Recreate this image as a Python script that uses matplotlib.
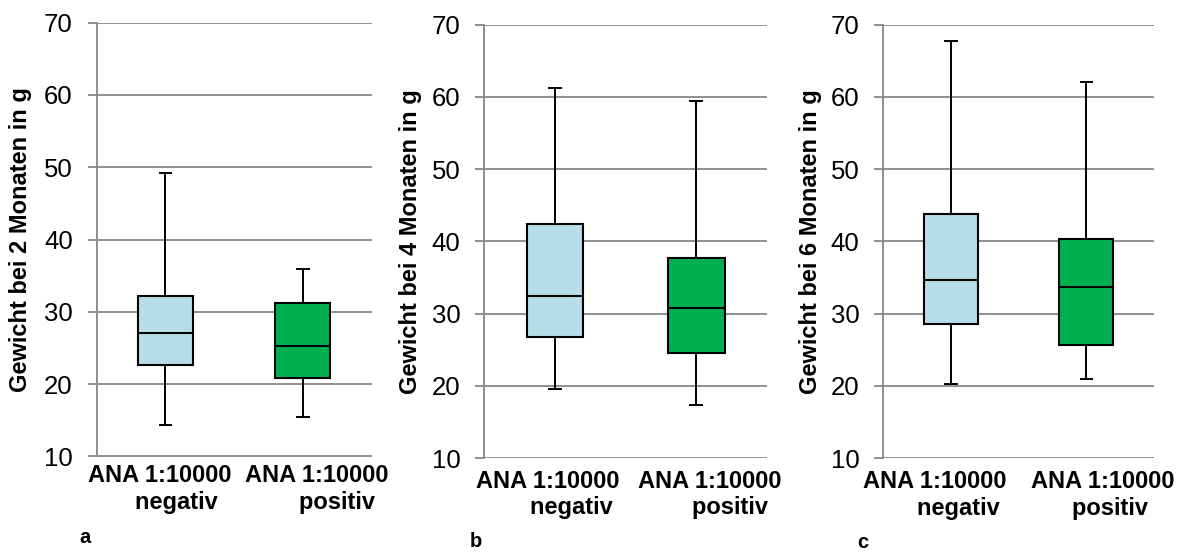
import matplotlib.pyplot as plt
from matplotlib.transforms import ScaledTranslation

plt.rcParams['font.family'] = ['Liberation Sans', 'DejaVu Sans']

line1 = "ANA 1:10000"
line2 = ["negativ", "positiv"]
ylabels = ["Gewicht bei 2 Monaten in g", "Gewicht bei 4 Monaten in g", "Gewicht bei 6 Monaten in g"]
letters = ["a", "b", "c"]

# whisker low, q1, median, q3, whisker high
neg_2m = [14.3, 22.6, 27.1, 32.2, 49.2]
pos_2m = [15.4, 20.8, 25.3, 31.3, 35.9]
neg_4m = [19.5, 26.8, 32.4, 42.4, 61.3]
pos_4m = [17.4, 24.6, 30.8, 37.7, 59.4]
neg_6m = [20.3, 28.5, 34.7, 43.8, 67.7]
pos_6m = [21.0, 25.7, 33.7, 40.3, 62.1]

panels = [(neg_2m, pos_2m), (neg_4m, pos_4m), (neg_6m, pos_6m)]
colors = ["#B7DDE8", "#00B050"]
grid_col = "#878787"

W, H = 1184, 552
fig = plt.figure(figsize=(W / 100, H / 100), dpi=100)
# axes boxes in pixels: left, right, top, bottom
boxes_px = [(96.7, 371.7, 22.7, 456.5),
            (484.3, 767.0, 24.7, 458.0),
            (883.3, 1154.0, 24.7, 458.0)]
label_x = [32, 422, 822]   # right edge of the rotated y label
letter_pos = [(85.5, 543), (476, 547), (863, 548)]
xpad = [5.5, 8.5, 9.0]
shift_px = [(-6, 14), (-7, 13.5), (-16, 16)]
trail = [(2, 2), (1, 2), (1, 4)]

for i, (neg, pos) in enumerate(panels):
    l, r, t, b = boxes_px[i]
    ax = fig.add_axes([l / W, 1 - b / H, (r - l) / W, (b - t) / H])
    stats = []
    for name, v in zip(line2, [neg, pos]):
        stats.append(dict(label=name, whislo=v[0], q1=v[1], med=v[2], q3=v[3], whishi=v[4], fliers=[]))
    bp = ax.bxp(stats, positions=[1, 2], widths=0.4, patch_artist=True, showfliers=False,
                boxprops=dict(linewidth=1.5, edgecolor="black"),
                medianprops=dict(color="black", linewidth=1.5),
                whiskerprops=dict(color="black", linewidth=1.4),
                capprops=dict(color="black", linewidth=1.4),
                capwidths=0.085)
    for patch, c in zip(bp['boxes'], colors):
        patch.set_facecolor(c)
        patch.set_zorder(3)
    for art in bp['whiskers'] + bp['caps']:
        art.set_zorder(2.5)
    for art in bp['medians']:
        art.set_zorder(4)

    ax.set_xlim(0.5, 2.5)
    ax.set_ylim(10, 70)
    ax.set_yticks(range(10, 71, 10))
    ax.yaxis.grid(True, color=grid_col, linewidth=1.3)
    ax.set_axisbelow(True)
    for s in ["top", "right", "bottom"]:
        ax.spines[s].set_visible(False)
    ax.spines["left"].set_color(grid_col)
    ax.spines["left"].set_linewidth(1.3)
    ax.tick_params(axis="y", length=6.3, width=1.3, color=grid_col, labelsize=18.5, pad=11)
    ax.tick_params(axis="x", length=0, pad=xpad[i])
    ax.set_xticks([1, 2])
    labels = [line1 + "\n" + line2[k] + " " * trail[i][k] for k in range(2)]
    ax.set_xticklabels(labels, fontsize=17, fontweight="bold", multialignment="right")
    for k, lab in enumerate(ax.get_xticklabels()):
        lab.set_transform(lab.get_transform() + ScaledTranslation(shift_px[i][k] / 100, 0, fig.dpi_scale_trans))
    ax.set_ylabel(ylabels[i], fontsize=17, fontweight="bold")
    ax.yaxis.set_label_coords((label_x[i] - l) / (r - l), 0.5)
    fig.text(letter_pos[i][0] / W, 1 - letter_pos[i][1] / H, letters[i],
             fontsize=14.5, fontweight="bold", ha="center", va="baseline")

fig.savefig("out.png", dpi=100)
